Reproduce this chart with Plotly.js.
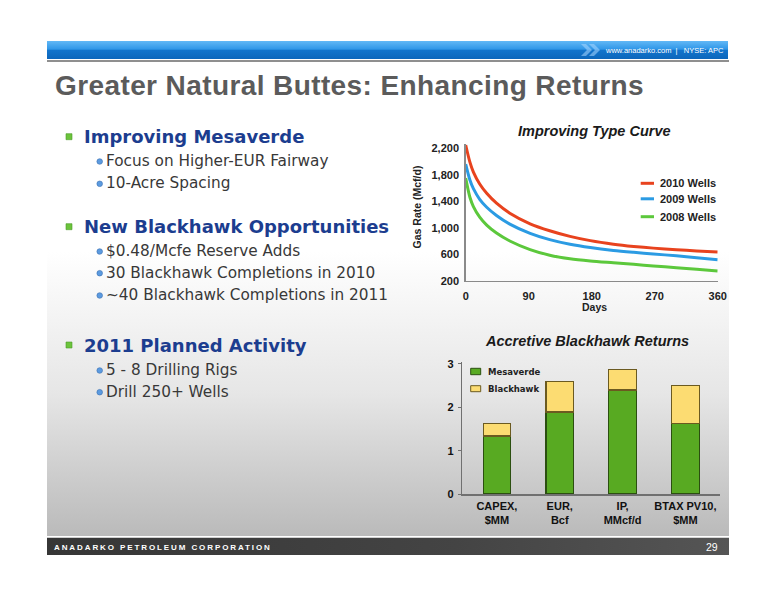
<!DOCTYPE html>
<html>
<head>
<meta charset="utf-8">
<script src="https://cdn.plot.ly/plotly-3.0.1.min.js"></script>
<style>
  html, body { margin: 0; padding: 0; background: #ffffff; }
  #chart { width: 776px; height: 600px; }
</style>
</head>
<body>
<div id="chart"></div>
<script>
// ---------- DATA ----------
// Improving Type Curve (gas rate, Mcf/d, vs days)
const days      = [0, 6, 11, 20, 30, 44, 63, 92, 120, 149, 178, 211, 240, 268, 301, 330, 360];
const wells2010 = [2250, 1990, 1840, 1660, 1520, 1370, 1220, 1060, 955, 870, 805, 752, 718, 692, 668, 650, 632];
const wells2009 = [1960, 1720, 1590, 1430, 1310, 1185, 1055, 915, 820, 750, 700, 657, 628, 603, 577, 548, 515];
const wells2008 = [1750, 1460, 1320, 1160, 1040, 920, 800, 670, 585, 530, 497, 470, 447, 423, 397, 372, 346];
const curveNames = ['2010 Wells', '2009 Wells', '2008 Wells'];
const rateTicks = [200, 600, 1000, 1400, 1800, 2200];
const dayTicks = [0, 90, 180, 270, 360];

// Accretive Blackhawk Returns (stacked)
const categories = ['CAPEX,<br>$MM', 'EUR,<br>Bcf', 'IP,<br>MMcf/d', 'BTAX PV10,<br>$MM'];
const mesaverde  = [1.34, 1.89, 2.40, 1.62];
const blackhawk  = [0.28, 0.70, 0.48, 0.89];
const barTicks = [0, 1, 2, 3];

// Slide text
const slideTitle = 'Greater Natural Buttes: Enhancing Returns';
const footerText = 'ANADARKO PETROLEUM CORPORATION';
const sections = [
  { head: 'Improving Mesaverde', items: ['Focus on Higher-EUR Fairway', '10-Acre Spacing'] },
  { head: 'New Blackhawk Opportunities', items: ['$0.48/Mcfe Reserve Adds', '30 Blackhawk Completions in 2010', '~40 Blackhawk Completions in 2011'] },
  { head: '2011 Planned Activity', items: ['5 - 8 Drilling Rigs', 'Drill 250+ Wells'] }
];

// ---------- HELPERS ----------
const W = 776, H = 600;
const px = x => x / W;
const py = y => 1 - y / H;

function grad(stops, vertical) {
  const svg = '<svg xmlns="http://www.w3.org/2000/svg" width="100" height="100" viewBox="0 0 100 100" preserveAspectRatio="none">' +
    '<defs><linearGradient id="g" x1="0" y1="0" x2="' + (vertical ? 0 : 1) + '" y2="' + (vertical ? 1 : 0) + '">' +
    stops.map(s => '<stop offset="' + s[0] + '" stop-color="' + s[1] + '"/>').join('') +
    '</linearGradient></defs><rect x="0" y="0" width="100" height="100" fill="url(#g)"/></svg>';
  return 'data:image/svg+xml;charset=utf-8,' + encodeURIComponent(svg);
}
function img(src, x0, y0, x1, y1) {
  return { source: src, xref: 'paper', yref: 'paper', x: px(x0), y: py(y0),
           sizex: (x1 - x0) / W, sizey: (y1 - y0) / H, xanchor: 'left', yanchor: 'top',
           sizing: 'stretch', layer: 'below' };
}
function rect(x0, y0, x1, y1, fill, line, lw) {
  return { type: 'rect', xref: 'paper', yref: 'paper', x0: px(x0), x1: px(x1), y0: py(y1), y1: py(y0),
           fillcolor: fill, line: { color: line || fill, width: lw === undefined ? 0 : lw }, layer: 'above' };
}
function pline(x0, y0, x1, y1, color, w) {
  return { type: 'line', xref: 'paper', yref: 'paper', x0: px(x0), x1: px(x1), y0: py(y0), y1: py(y1),
           line: { color: color, width: w } };
}
function circ(cx, cy, r, fill, line) {
  return { type: 'circle', xref: 'paper', yref: 'paper', x0: px(cx - r), x1: px(cx + r), y0: py(cy + r), y1: py(cy - r),
           fillcolor: fill, line: { color: line, width: 0.6 } };
}
function ppath(points, fill) {
  const d = points.map((p, i) => (i ? 'L' : 'M') + px(p[0]).toFixed(5) + ',' + py(p[1]).toFixed(5)).join(' ') + ' Z';
  return { type: 'path', xref: 'paper', yref: 'paper', path: d, fillcolor: fill, line: { width: 0 } };
}
function txt(text, x, y, opts) {
  opts = opts || {};
  return Object.assign({ text: text, xref: 'paper', yref: 'paper', x: px(x), y: py(y),
           xanchor: opts.xanchor || 'left', yanchor: 'middle', showarrow: false,
           font: { family: opts.family || 'Liberation Sans, Arial, sans-serif', size: opts.size || 12,
                   color: opts.color || '#222', weight: opts.weight || 'normal', style: opts.style || 'normal' } },
           opts.extra || {});
}

// ---------- TRACES ----------
const curveColors = ['#e8431e', '#2b9be3', '#5cc83c'];
const curveData = [wells2010, wells2009, wells2008];
const traces = curveData.map((ys, i) => ({
  type: 'scatter', mode: 'lines', x: days, y: ys, name: curveNames[i],
  line: { color: curveColors[i], width: 3, shape: 'spline', smoothing: 0.8 },
  xaxis: 'x', yaxis: 'y', showlegend: false, hoverinfo: 'skip'
}));
traces.push({
  type: 'bar', x: categories, y: mesaverde, name: 'Mesaverde', xaxis: 'x2', yaxis: 'y2',
  marker: { color: '#58aa22', line: { color: '#2b4f10', width: 1.2 } }, showlegend: false, hoverinfo: 'skip'
});
traces.push({
  type: 'bar', x: categories, y: blackhawk, name: 'Blackhawk', xaxis: 'x2', yaxis: 'y2',
  marker: { color: '#fcdc72', line: { color: '#6b5a20', width: 1.2 } }, showlegend: false, hoverinfo: 'skip'
});

// ---------- DECORATION ----------
const images = [
  img(grad([[0, '#ffffff'], [0.40, '#ffffff'], [0.70, '#e6e6e6'], [1, '#bababa']], true), 47, 62, 729, 536),
  img(grad([[0, '#62b8f6'], [0.45, '#3097e8'], [0.52, '#1274cc'], [1, '#0c66bb']], true), 47, 41, 728, 59),
  img(grad([[0, '#363636'], [0.6, '#444444'], [1, '#555555']], false), 47, 537.5, 729, 555)
];

const shapes = [
  pline(47, 61, 729, 61, '#6a6a6a', 1.5),
  ppath([[581, 44], [586, 44], [592, 50], [586, 56], [581, 56], [587, 50]], 'rgba(170,215,255,0.55)'),
  ppath([[589, 44], [594, 44], [600, 50], [594, 56], [589, 56], [595, 50]], 'rgba(170,215,255,0.55)')
];

const annotations = [
  txt(slideTitle, 52.5, 86, { size: 28, weight: 'bold', color: '#5b5b5b' }),
  txt('www.anadarko.com  |   NYSE: APC', 603, 50.5, { size: 7.5, color: '#ffffff' }),
  txt(footerText, 52, 547, { size: 8, weight: 'bold', color: '#ffffff' }),
  txt('29', 719.5, 546.5, { size: 10.5, color: '#ffffff', xanchor: 'right' })
];

// bullet text
const headY = [136.7, 226.7, 345];
const itemY = [[161, 183.3], [251, 272.7, 295], [370, 391.7]];
sections.forEach((s, i) => {
  shapes.push(rect(66, headY[i] - 3, 72, headY[i] + 3, '#6cc43c', '#4a9a28', 0.6));
  annotations.push(txt(s.head, 82, headY[i], { family: 'DejaVu Sans, Verdana, sans-serif', size: 18, weight: 'bold', color: '#1c3d8f' }));
  s.items.forEach((it, j) => {
    shapes.push(circ(99.7, itemY[i][j] + 0.5, 2.8, '#5c9be0', '#3a6fb0'));
    annotations.push(txt(it, 104, itemY[i][j], { family: 'DejaVu Sans, Verdana, sans-serif', size: 15.3, color: '#383838' }));
  });
});

// line chart texts + legend
annotations.push(txt('Improving Type Curve', 594.2, 131, { size: 14.5, weight: 'bold', style: 'italic', color: '#1a1a1a', xanchor: 'center' }));
annotations.push(txt('Days', 594.7, 307.3, { size: 10.5, weight: 'bold', color: '#222', xanchor: 'center' }));
annotations.push(txt('Gas Rate (Mcf/d)', 416.7, 206.7, { size: 10.5, weight: 'bold', color: '#222', xanchor: 'center', extra: { textangle: -90 } }));
const legY = [183.3, 198.8, 216.7];
curveNames.forEach((n, i) => {
  shapes.push(pline(640.7, legY[i], 654, legY[i], curveColors[i], 3));
  annotations.push(txt(n, 658.3, legY[i], { size: 11, weight: 'bold', color: '#222' }));
});

// bar chart texts + legend
annotations.push(txt('Accretive Blackhawk Returns', 587.3, 341, { size: 14.5, weight: 'bold', style: 'italic', color: '#1a1a1a', xanchor: 'center' }));
shapes.push(rect(470.7, 368.3, 480.7, 374.7, '#58aa22', '#2b4f10', 1));
shapes.push(rect(470.7, 385.7, 480.7, 391.7, '#fcdc72', '#6b5a20', 1));
annotations.push(txt('Mesaverde', 486, 371.7, { family: 'DejaVu Sans, Verdana, sans-serif', size: 8.5, weight: 'bold', color: '#222' }));
annotations.push(txt('Blackhawk', 486, 389.3, { family: 'DejaVu Sans, Verdana, sans-serif', size: 8.5, weight: 'bold', color: '#222' }));

// ---------- LAYOUT ----------
const axFont = { family: 'Liberation Sans, Arial, sans-serif', size: 11, color: '#222', weight: 'bold' };
const layout = {
  width: W, height: H,
  margin: { l: 0, r: 0, t: 0, b: 0 },
  paper_bgcolor: '#ffffff', plot_bgcolor: 'rgba(0,0,0,0)',
  showlegend: false, hovermode: false,
  barmode: 'stack', bargap: 0.564,
  xaxis: {
    domain: [px(465.7), px(717.7)], range: [0, 360], tickvals: dayTicks,
    showgrid: false, zeroline: false, showline: true, linecolor: '#8a8a8a', linewidth: 1.5,
    ticks: '', tickfont: axFont, ticklabelstandoff: 5, anchor: 'y', fixedrange: true
  },
  yaxis: {
    domain: [py(280.7), py(144.3)], range: [200, 2260], tickvals: rateTicks, tickformat: ',d',
    showgrid: false, zeroline: false, showline: true, linecolor: '#8a8a8a', linewidth: 1.5,
    ticks: '', tickfont: axFont, ticklabelstandoff: 3, anchor: 'x', fixedrange: true
  },
  xaxis2: {
    domain: [px(461.7), px(720)], range: [-0.56, 3.55], type: 'category',
    showgrid: false, zeroline: false, showline: true, linecolor: '#707070', linewidth: 1.5,
    ticks: '', tickfont: { family: 'Liberation Sans, Arial, sans-serif', size: 11, color: '#111', weight: 'bold' },
    ticklabelstandoff: 1, anchor: 'y2', fixedrange: true
  },
  yaxis2: {
    domain: [py(494), py(361.8)], range: [0, 3.05], tickvals: barTicks,
    showgrid: false, zeroline: false, showline: true, linecolor: '#707070', linewidth: 1,
    ticks: 'outside', ticklen: 3, tickcolor: '#707070', tickwidth: 1,
    tickfont: { family: 'Liberation Sans, Arial, sans-serif', size: 11, color: '#111', weight: 'bold' },
    ticklabelstandoff: 2, anchor: 'x2', fixedrange: true
  },
  images: images,
  shapes: shapes,
  annotations: annotations
};

function spaceText(content, spacing) {
  document.querySelectorAll('.annotation-text').forEach(el => {
    if (el.textContent !== content) return;
    const before = el.getBBox();
    el.style.letterSpacing = spacing + 'px';
    const after = el.getBBox();
    const x = parseFloat(el.getAttribute('x') || '0');
    el.setAttribute('x', x + (before.x - after.x));
  });
}

Plotly.newPlot('chart', traces, layout, { staticPlot: true, displayModeBar: false }).then(() => {
  spaceText(footerText, 1.9);
  spaceText(slideTitle, 0.4);
});
</script>
</body>
</html>
